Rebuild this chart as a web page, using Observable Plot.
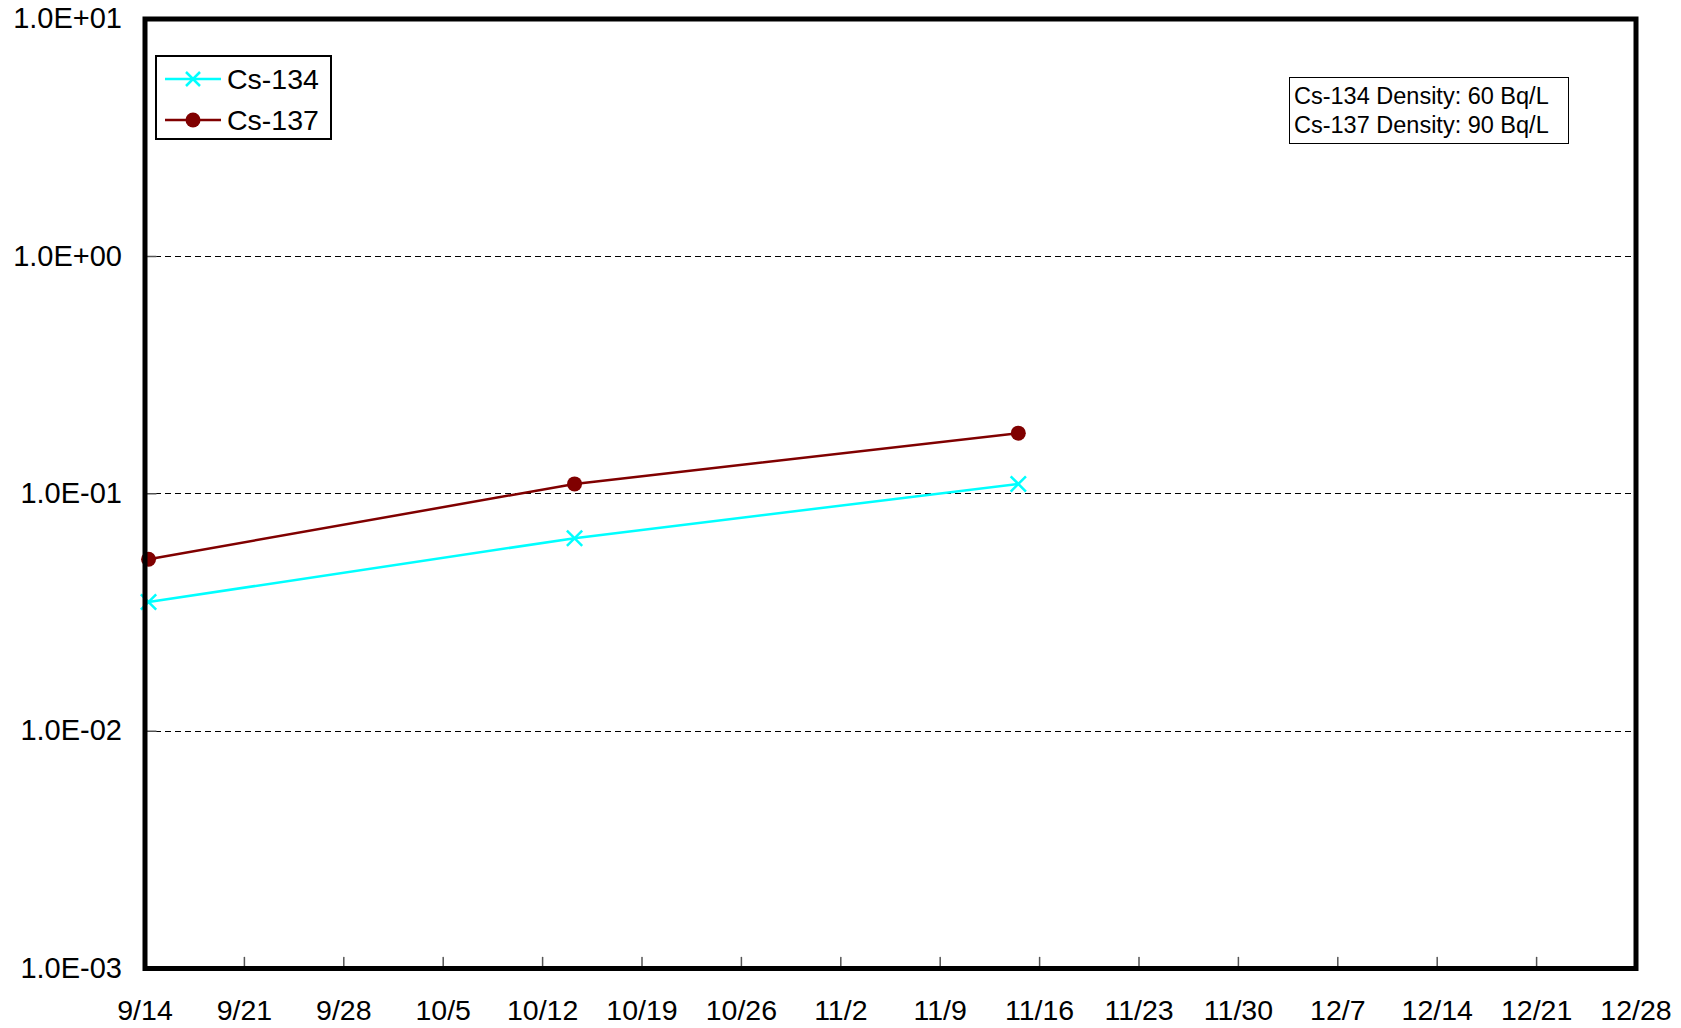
<!DOCTYPE html>
<html>
<head>
<meta charset="utf-8">
<script src="https://cdn.jsdelivr.net/npm/d3@7"></script>
<script src="https://cdn.jsdelivr.net/npm/@observablehq/plot@0.6"></script>
<style>
  html, body { margin: 0; padding: 0; background: white; }
  #wrap { position: relative; width: 1681px; height: 1028px; font-family: "Liberation Sans", Arial, sans-serif; color: black; }
  #legend { position: absolute; left: 155px; top: 55px; width: 173px; height: 81px; border: 2px solid black; background: white; }
  .row { position: absolute; left: 0; height: 40px; display: flex; align-items: center; font-size: 28.5px; }
  .row svg { margin-left: 8px; margin-right: 6px; }
  #note { position: absolute; left: 1289px; top: 77px; width: 274px; height: 65px; border: 1.5px solid black; background: white; font-size: 23.5px; line-height: 28.5px; padding-left: 4px; box-sizing: content-box; }
  #note div { white-space: nowrap; }
</style>
</head>
<body>
<div id="wrap">
  <div id="chart"></div>
  <div id="legend"></div>
  <div id="note"></div>
</div>
<script>
// ---- data ----
const seriesNames = ["Cs-134", "Cs-137"];
const seriesColors = ["#00FFFF", "#800000"];
const sampleDates = ["2011-09-14T06:00Z", "2011-10-14T06:00Z", "2011-11-14T12:00Z"];
const cs134Values = [0.035, 0.065, 0.11];
const cs137Values = [0.053, 0.11, 0.18];
const xTickDates = ["2011-09-14", "2011-09-21", "2011-09-28", "2011-10-05", "2011-10-12", "2011-10-19",
  "2011-10-26", "2011-11-02", "2011-11-09", "2011-11-16", "2011-11-23", "2011-11-30",
  "2011-12-07", "2011-12-14", "2011-12-21", "2011-12-28"];
const yTicks = [0.001, 0.01, 0.1, 1, 10];
const yTickLabels = ["1.0E-03", "1.0E-02", "1.0E-01", "1.0E+00", "1.0E+01"];
const gridValues = [0.01, 0.1, 1];
const noteLines = ["Cs-134 Density: 60 Bq/L", "Cs-137 Density: 90 Bq/L"];

// ---- build table ----
const rows = [];
sampleDates.forEach((d, i) => {
  rows.push({ series: "Cs-134", date: new Date(d), value: cs134Values[i] });
  rows.push({ series: "Cs-137", date: new Date(d), value: cs137Values[i] });
});
const xTicks = xTickDates.map(d => new Date(d + "T00:00Z"));
const fmtDate = d => `${d.getUTCMonth() + 1}/${d.getUTCDate()}`;
const fmtY = d => yTickLabels[yTicks.findIndex(t => Math.abs(t - d) / t < 1e-6)] ?? "";

const lineShape = { draw(context, l) { context.moveTo(0, 0); context.lineTo(0, -l); } };

const chart = Plot.plot({
  width: 1681,
  height: 1028,
  marginLeft: 144.5,
  marginRight: 45.5,
  marginTop: 18.5,
  marginBottom: 60,
  style: { fontFamily: "'Liberation Sans', Arial, sans-serif", fontSize: "28px", background: "white", color: "black" },
  x: { type: "utc", domain: [xTicks[0], xTicks[xTicks.length - 1]] },
  y: { type: "log", domain: [yTicks[0], yTicks[yTicks.length - 1]] },
  color: { domain: seriesNames, range: seriesColors },
  marks: [
    Plot.ruleY(gridValues, { stroke: "black", strokeWidth: 1, strokeDasharray: "6,4", shapeRendering: "crispEdges" }),
    Plot.axisX({ ticks: xTicks, tickSize: 0, tickPadding: 31, tickFormat: fmtDate, fontSize: 28.5, fill: "black", label: null }),
    Plot.axisY({ ticks: yTicks, tickSize: 0, tickPadding: 23, tickFormat: fmtY, fontSize: 29, fill: "black", label: null }),
    Plot.vector(xTicks.slice(1, -1), { x: d => d, frameAnchor: "bottom", length: 11, rotate: 0, anchor: "start", shape: lineShape, stroke: "#555", strokeWidth: 1.5 }),
    Plot.vector(gridValues, { y: d => d, frameAnchor: "left", length: 11, rotate: 90, anchor: "start", shape: lineShape, stroke: "#555", strokeWidth: 1.5 }),
    Plot.line(rows, { x: "date", y: "value", z: "series", stroke: "series", strokeWidth: 2.5 }),
    Plot.dot(rows.filter(r => r.series === "Cs-137"), { x: "date", y: "value", r: 7.5, fill: "#800000", stroke: "none" }),
    Plot.dot(rows.filter(r => r.series === "Cs-134"), { x: "date", y: "value", r: 7, symbol: "times", stroke: "#00FFFF", strokeWidth: 2.5 }),
    Plot.frame({ stroke: "black", strokeWidth: 5 })
  ]
});
document.getElementById("chart").appendChild(chart);

// ---- legend ----
const legend = document.getElementById("legend");
seriesNames.forEach((name, i) => {
  const row = document.createElement("div");
  row.className = "row";
  row.style.top = (i === 0 ? 2 : 43) + "px";
  const color = seriesColors[i];
  const marker = i === 0
    ? `<path d="M21,-7L35,7M35,-7L21,7" stroke="${color}" stroke-width="2.5" fill="none"/>`
    : `<circle cx="28" cy="0" r="7.5" fill="${color}"/>`;
  row.innerHTML = `<svg width="56" height="20" viewBox="0 -10 56 20"><line x1="0" x2="56" y1="0" y2="0" stroke="${color}" stroke-width="2.5"/>${marker}</svg><span>${name}</span>`;
  legend.appendChild(row);
});

// ---- note box ----
const note = document.getElementById("note");
noteLines.forEach(t => {
  const d = document.createElement("div");
  d.textContent = t;
  note.appendChild(d);
});
note.style.paddingTop = "4px";
note.style.height = "61px";
</script>
</body>
</html>
